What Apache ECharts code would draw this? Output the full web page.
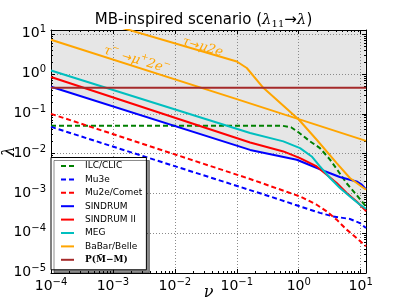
<!DOCTYPE html>
<html><head><meta charset="utf-8">
<script src="https://cdn.jsdelivr.net/npm/echarts@6/dist/echarts.min.js"></script>
<style>html,body{margin:0;padding:0;background:#fff}#c{width:407px;height:305px}</style>
</head><body><div id="c"></div>
<script>
// ---- tick labels ----
const xTickValues = [1e-4, 1e-3, 1e-2, 1e-1, 1, 10];
const xTickLabels = ['−4', '−3', '−2', '−1', '0', '1'];
const yTickValues = [1e-5, 1e-4, 1e-3, 1e-2, 1e-1, 1, 10];
const yTickLabels = ['−5', '−4', '−3', '−2', '−1', '0', '1'];

// ---- series values [nu, lambda] ----
const ilcClic = [[1e-4,0.05],[0.55,0.05],[0.75,0.046],[1.0,0.034],[1.52,0.0204],[2.2,0.0138],[3.2,0.0071],[4.35,0.0036],[5.94,0.0018],[8.1,0.00102],[12.2,0.00047]];
const mu3e = [[1e-4,0.047],[0.344,0.00084],[0.87,0.00052],[2.2,0.000324],[3.6,0.000264],[6.7,0.000228],[9.75,0.00018],[12.2,0.000135]];
const mu2eComet = [[1e-4,0.1],[0.164,0.0023],[1.05,0.00084],[1.95,0.00052],[2.83,0.000353],[4.1,0.000219],[5.94,0.000123],[8.6,0.000076],[12.2,0.0000468]];
const sindrum = [[1e-4,0.48],[0.164,0.0124],[0.93,0.0070],[2.65,0.0036],[4.6,0.00258],[8.6,0.0020],[10.4,0.00166],[11.7,0.00137],[12.2,0.00128]];
const sindrumII = [[1e-4,0.84],[0.164,0.0191],[0.565,0.01135],[1.05,0.00774],[1.95,0.00476],[2.83,0.00295],[4.1,0.00182],[5.94,0.00102],[8.6,0.00063],[11.7,0.00039],[12.2,0.000355]];
const meg = [[1e-4,1.23],[0.164,0.033],[0.565,0.0203],[1.05,0.0138],[1.62,0.0085],[2.2,0.00476],[3.2,0.00244],[4.63,0.00137],[6.7,0.00084],[9.75,0.00052],[11.7,0.00043],[12.2,0.00041]];
const tauMu2e = [[1e-3,16.9],[0.1,2.07],[0.145,1.42],[0.268,0.45],[1.0,0.072],[1.95,0.0223],[4.1,0.0058],[6.7,0.00244],[12.2,0.00124]];
const tauMuPlus2e = [[1e-4,7.3],[0.1,0.235],[12.2,0.0209]];
const muonium = [[1e-4,0.45],[12.2,0.45]];
const excludedEdge = [[1e-4,0.45],[1.3e-4,0.42],[0.164,0.0124],[0.93,0.0070],[2.3,0.0040],[2.83,0.00295],[4.1,0.00182],[5.94,0.00102],[8.6,0.00063],[11.7,0.00039],[12.2,0.000355]];

const names = ['ILC/CLIC','Mu3e','Mu2e/Comet','SINDRUM','SINDRUM II','MEG','BaBar/Belle','P(M̄−M)'];
const labelTauMu2e = {x: 0.0286, y: 5.2};
const labelTauMuPlus = {x: 0.00247, y: 2.45};

// ---- layout ----
const X_MIN = 1e-4, X_MAX = 12.2, Y_MIN = 1e-5, Y_MAX = 12.8;
const GRID = {left: 51, right: 41, top: 30, bottom: 32};

function minorList(lo, hi) {
  const out = [];
  for (let d = lo; d < hi; d *= 10) for (let k = 2; k <= 9; k++) out.push(+(k * d).toPrecision(3));
  return out;
}
const xMinor = minorList(1e-4, 10);
const yMinor = minorList(1e-5, 10);

const tickRich = {
  b: {fontSize: 14, fontFamily: 'DejaVu Sans', color: '#000', lineHeight: 16, verticalAlign: 'bottom'},
  e: {fontSize: 10, fontFamily: 'DejaVu Sans', color: '#000', lineHeight: 1, verticalAlign: 'top'}
};
function fmt(vals, labels) {
  return v => {
    const i = vals.findIndex(t => Math.abs(Math.log10(t) - Math.log10(v)) < 1e-6);
    return i < 0 ? '' : '{b|10}{e|' + labels[i] + '}';
  };
}
const black = {color: '#000', width: 1};
const grid = {color: '#8a8a8a', width: 1, type: [1, 2]};

function majorAxis(kind, pos, first) {
  const isX = kind === 'x';
  const vals = isX ? xTickValues : yTickValues;
  const a = {
    gridIndex: 0, type: 'log', logBase: 10, position: pos,
    min: isX ? X_MIN : Y_MIN, max: isX ? X_MAX : Y_MAX,
    axisLine: {show: true, onZero: false, lineStyle: black},
    axisTick: {show: true, inside: true, length: 4, customValues: vals, lineStyle: black},
    axisLabel: {show: false},
    splitLine: {show: false}, minorTick: {show: false}, minorSplitLine: {show: false}
  };
  if (first) {
    a.axisLabel = {show: true, customValues: vals, formatter: fmt(vals, isX ? xTickLabels : yTickLabels),
      rich: tickRich, margin: isX ? 4 : 5, padding: isX ? 0 : [0, 0, 3, 0]};
    a.splitLine = {show: true, lineStyle: grid};
    a.nameMoveOverlap = false;
    a.nameLocation = 'middle';
    a.nameTextStyle = {fontFamily: 'DejaVu Serif', fontStyle: 'italic', fontSize: 16, color: '#000'};
    if (isX) {
      a.name = 'ν'; a.nameGap = 12;
    } else {
      a.name = 'λ'; a.nameGap = 33; a.nameRotate = 90;
    }
  }
  return a;
}
function minorAxis(kind, pos) {
  const isX = kind === 'x';
  return {
    gridIndex: 1, type: 'log', logBase: 10, position: pos,
    min: isX ? X_MIN : Y_MIN, max: isX ? X_MAX : Y_MAX,
    axisLine: {show: false, onZero: false},
    axisTick: {show: true, inside: true, length: 2, customValues: isX ? xMinor : yMinor, lineStyle: black},
    axisLabel: {show: false}, splitLine: {show: false}, minorTick: {show: false}
  };
}

function lineSeries(name, data, color, dashed, extra) {
  return Object.assign({
    name, type: 'line', data, xAxisIndex: 0, yAxisIndex: 0,
    symbol: 'none', showSymbol: false, smooth: false, clip: true, z: 3,
    lineStyle: {color, width: 2, type: dashed ? [5, 3] : 'solid'},
    itemStyle: {color}, emphasis: {disabled: true}, animation: false
  }, extra || {});
}

const annRich = {
  a: {fontFamily: 'DejaVu Serif', fontStyle: 'italic', fontSize: 13, color: '#ffa500', lineHeight: 16, verticalAlign: 'bottom'},
  r: {fontFamily: 'DejaVu Sans', fontSize: 12, color: '#ffa500', lineHeight: 16, verticalAlign: 'bottom'},
  s: {fontFamily: 'DejaVu Serif', fontStyle: 'italic', fontSize: 9, color: '#ffa500', lineHeight: 1, verticalAlign: 'top'}
};

const chart = echarts.init(document.getElementById('c'), null, {renderer: 'canvas'});
chart.setOption({
  backgroundColor: '#fff',
  animation: false,
  title: {
    text: '{t|MB-inspired scenario (}{m|λ}{sub|11}{t|→}{m|λ}{t|)}',
    left: 'center', top: 11, padding: [0, 0, 0, 10],
    textStyle: {fontWeight: 'normal', rich: {
      t: {fontFamily: 'DejaVu Sans', fontWeight: 'normal', fontSize: 15, color: '#000', lineHeight: 18},
      m: {fontFamily: 'DejaVu Serif', fontWeight: 'normal', fontStyle: 'italic', fontSize: 15, color: '#000', lineHeight: 18},
      sub: {fontFamily: 'DejaVu Serif', fontWeight: 'normal', fontSize: 10, color: '#000', lineHeight: 10, verticalAlign: 'bottom'}
    }}
  },
  grid: [Object.assign({show: false, outerBoundsMode: 'none', containLabel: false}, GRID),
         Object.assign({show: false, outerBoundsMode: 'none', containLabel: false}, GRID)],
  xAxis: [majorAxis('x', 'bottom', true), majorAxis('x', 'top', false), minorAxis('x', 'bottom'), minorAxis('x', 'top')],
  yAxis: [majorAxis('y', 'left', true), majorAxis('y', 'right', false), minorAxis('y', 'left'), minorAxis('y', 'right')],
  legend: {
    data: names, orient: 'vertical', left: 51, top: 157.5,
    padding: [3.5, 4, 5, 9], itemGap: 3.4, itemWidth: 13, itemHeight: 10,
    backgroundColor: '#fff', borderColor: '#000', borderWidth: 1, borderRadius: 0,
    shadowColor: 'rgba(0,0,0,0.45)', shadowBlur: 0, shadowOffsetX: 3, shadowOffsetY: 3,
    selectedMode: false,
    itemStyle: {opacity: 0},
    textStyle: {fontFamily: 'DejaVu Sans', fontSize: 9, color: '#000', lineHeight: 10, padding: [0, 0, 0, 6],
      rich: {p: {fontFamily: 'DejaVu Serif', fontWeight: 'bold', fontSize: 9, color: '#000', lineHeight: 10}}},
    formatter: n => n === 'P(M̄−M)' ? '{p|' + n + '}' : n
  },
  series: [
    {name: 'excluded', type: 'line', data: excludedEdge, xAxisIndex: 0, yAxisIndex: 0, symbol: 'none', z: -1, silent: true,
     lineStyle: {width: 0, opacity: 0}, areaStyle: {color: '#e6e6e6', opacity: 1, origin: 'end'}, animation: false},
    lineSeries('ILC/CLIC', ilcClic, '#008000', true),
    lineSeries('Mu3e', mu3e, '#0000ff', true),
    lineSeries('Mu2e/Comet', mu2eComet, '#ff0000', true),
    lineSeries('SINDRUM', sindrum, '#0000ff', false),
    lineSeries('SINDRUM II', sindrumII, '#ff0000', false),
    lineSeries('MEG', meg, '#00bfbf', false),
    lineSeries('BaBar/Belle', tauMu2e, '#ffa500', false, {
      markPoint: {symbol: 'circle', symbolSize: 0, silent: true, animation: false,
        label: {show: true, position: 'inside', rotate: -17, rich: annRich,
          formatter: '{a|τ}{r|→}{a|μ2e}'},
        data: [{coord: [labelTauMu2e.x, labelTauMu2e.y]}]}
    }),
    lineSeries('BaBar/Belle', tauMuPlus2e, '#ffa500', false, {
      markPoint: {symbol: 'circle', symbolSize: 0, silent: true, animation: false,
        label: {show: true, position: 'inside', rotate: -17, rich: annRich,
          formatter: '{a|τ}{s|−}{a| }{r|→}{a|μ}{s|+}{a|2e}{s|−}'},
        data: [{coord: [labelTauMuPlus.x, labelTauMuPlus.y]}]}
    }),
    lineSeries('P(M̄−M)', muonium, '#a52a2a', false)
  ]
});
</script>
</body></html>
